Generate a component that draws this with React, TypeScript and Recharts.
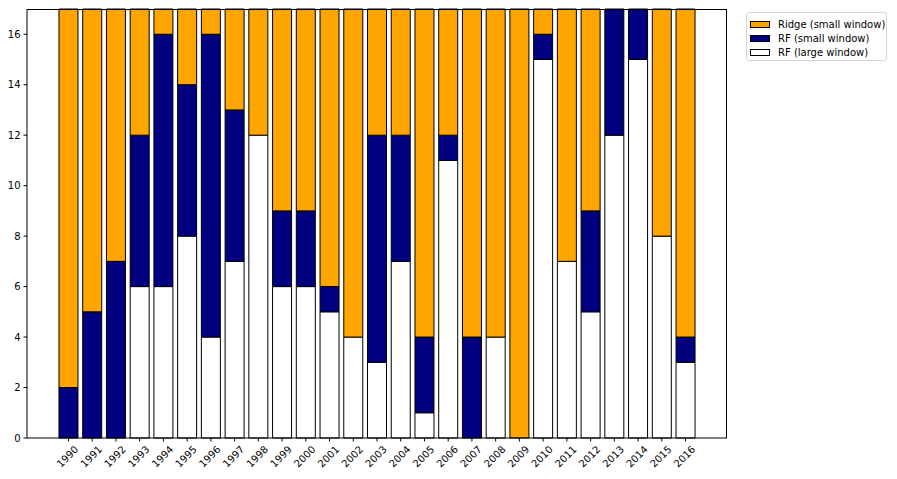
import React from "react";
import { BarChart, Bar, XAxis, YAxis } from "recharts";

const years = [
  "1990", "1991", "1992", "1993", "1994", "1995", "1996", "1997", "1998",
  "1999", "2000", "2001", "2002", "2003", "2004", "2005", "2006", "2007",
  "2008", "2009", "2010", "2011", "2012", "2013", "2014", "2015", "2016",
];

// number of months each model was best, per year
const rfLarge = [0, 0, 0, 6, 6, 8, 4, 7, 12, 6, 6, 5, 4, 3, 7, 1, 11, 0, 4, 0, 15, 7, 5, 12, 15, 8, 3];
const rfSmall = [2, 5, 7, 6, 10, 6, 12, 6, 0, 3, 3, 1, 0, 9, 5, 3, 1, 4, 0, 0, 1, 0, 4, 5, 2, 0, 1];
const ridgeSmall = [15, 12, 10, 5, 1, 3, 1, 4, 5, 8, 8, 11, 13, 5, 5, 13, 5, 13, 13, 17, 1, 10, 8, 0, 0, 9, 13];

const yTicks = [0, 2, 4, 6, 8, 10, 12, 14, 16];

const data = years.map((year, i) => ({
  year,
  rfLarge: rfLarge[i],
  rfSmall: rfSmall[i],
  ridgeSmall: ridgeSmall[i],
}));

const legendItems = [
  { label: "Ridge (small window)", color: "#ffa500" },
  { label: "RF (small window)", color: "#000080" },
  { label: "RF (large window)", color: "#ffffff" },
];

const FONT = "'DejaVu Sans', sans-serif";

const YearTick = ({ x, y, payload }: any) => (
  <g transform={`translate(${x},${y})`}>
    <text
      transform="translate(-1,15) rotate(-45)"
      textAnchor="middle"
      dominantBaseline="central"
      fontSize={10}
      fontFamily={FONT}
      fill="#000"
    >
      {payload.value}
    </text>
  </g>
);

export default function App() {
  return (
    <div style={{ position: "absolute", left: 0, top: 0, width: 897, height: 479, background: "#fff" }}>
      <BarChart
        width={897}
        height={479}
        data={data}
        margin={{ top: 9, right: 170, left: 0, bottom: 0 }}
        barCategoryGap="10%"
      >
        <XAxis
          dataKey="year"
          height={41}
          padding={{ left: 29.6, right: 29.6 }}
          axisLine={{ stroke: "#000", strokeWidth: 1 }}
          tickLine={{ stroke: "#000" }}
          tickSize={3.5}
          tickMargin={0}
          interval={0}
          tick={<YearTick />}
        />
        <YAxis
          width={27}
          domain={[0, 17]}
          ticks={yTicks}
          interval={0}
          axisLine={{ stroke: "#000", strokeWidth: 1 }}
          tickLine={{ stroke: "#000" }}
          tickSize={3.5}
          tickMargin={3}
          tick={{ fontSize: 10, fill: "#000", fontFamily: FONT }}
        />
        <Bar dataKey="rfLarge" stackId="a" fill="#ffffff" stroke="#000" strokeWidth={1} isAnimationActive={false} />
        <Bar dataKey="rfSmall" stackId="a" fill="#000080" stroke="#000" strokeWidth={1} isAnimationActive={false} />
        <Bar dataKey="ridgeSmall" stackId="a" fill="#ffa500" stroke="#000" strokeWidth={1} isAnimationActive={false} />
      </BarChart>
      {/* top and right spines of the plot frame */}
      <div
        style={{
          position: "absolute",
          left: 27,
          top: 8.5,
          width: 700,
          height: 429.5,
          borderTop: "1px solid #000",
          borderRight: "1px solid #000",
          boxSizing: "border-box",
          pointerEvents: "none",
        }}
      />
      <div
        style={{
          position: "absolute",
          left: 746,
          top: 12,
          width: 141,
          height: 49,
          border: "1px solid #d6d6d6",
          borderRadius: 3,
          boxSizing: "border-box",
          background: "#fff",
          fontFamily: FONT,
          fontSize: 10,
          padding: "4px 0 0 3px",
        }}
      >
        {legendItems.map((item) => (
          <div key={item.label} style={{ display: "flex", alignItems: "center", height: 14.3 }}>
            <div
              style={{
                width: 20,
                height: 7,
                background: item.color,
                border: "1px solid #000",
                boxSizing: "border-box",
                marginRight: 8,
              }}
            />
            <span style={{ color: "#000" }}>{item.label}</span>
          </div>
        ))}
      </div>
    </div>
  );
}
